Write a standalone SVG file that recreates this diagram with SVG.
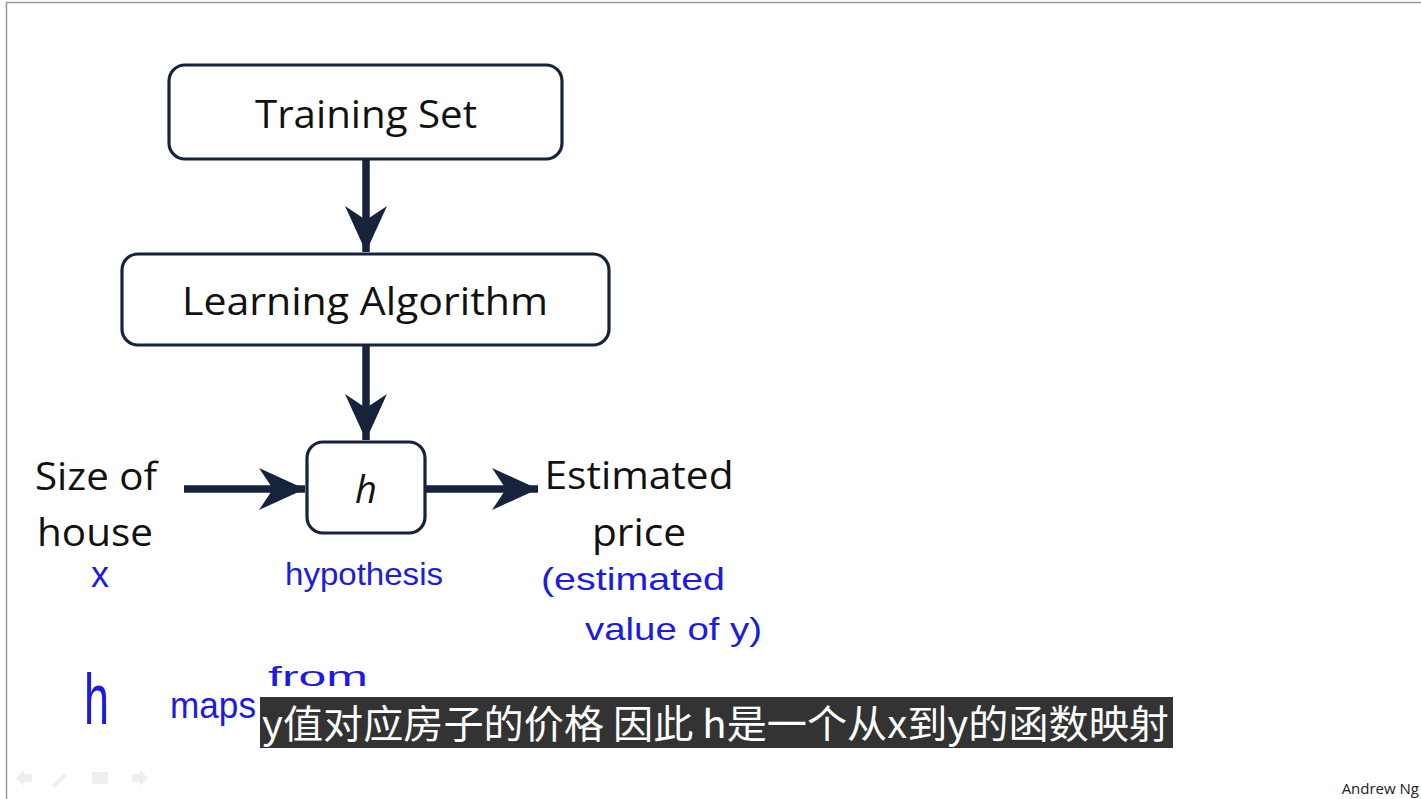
<svg xmlns="http://www.w3.org/2000/svg" width="1421" height="799" viewBox="0 0 1421 799">
<defs>
<style>
.box{fill:#ffffff;stroke:#16233b;stroke-width:3.2}
.lbl{font-family:"Open Sans","Liberation Sans",sans-serif;fill:#111111}
.hand{font-family:"Liberation Sans",sans-serif;fill:#1c1ce0;font-weight:normal}
.conn{stroke:#16233b;stroke-width:7.5;fill:none}
.sub{font-family:"Noto Sans CJK SC","Noto Sans",sans-serif;fill:#ffffff}
</style>
<marker id="ah" markerUnits="userSpaceOnUse" viewBox="-48 -24 50 48" markerWidth="50" markerHeight="48" refX="0" refY="0" orient="auto">
<path d="M0,0 L-46,-21 L-32,0 L-46,21 Z" fill="#16233b"/>
</marker>
</defs>
<rect x="0" y="0" width="1421" height="799" fill="#ffffff"/>
<g id="frame">
<line x1="6" y1="2.5" x2="1421" y2="2.5" stroke="#999999" stroke-width="1.5"/>
<line x1="6.5" y1="2" x2="6.5" y2="799" stroke="#999999" stroke-width="1.5"/>
</g>
<g id="connectors">
<line class="conn" x1="366" y1="160" x2="366" y2="252" marker-end="url(#ah)"/>
<line class="conn" x1="366" y1="346" x2="366" y2="440" marker-end="url(#ah)"/>
<line class="conn" x1="184" y1="489" x2="305" y2="489" marker-end="url(#ah)"/>
<line class="conn" x1="426" y1="489" x2="538" y2="489" marker-end="url(#ah)"/>
</g>
<g id="training-set">
<rect class="box" x="169" y="65" width="393" height="94" rx="16"/>
<text class="lbl" x="366" y="128" font-size="39" text-anchor="middle" textLength="222" lengthAdjust="spacingAndGlyphs">Training Set</text>
</g>
<g id="learning-algorithm">
<rect class="box" x="122" y="254" width="487" height="91" rx="16"/>
<text class="lbl" x="365" y="315" font-size="39" text-anchor="middle" textLength="366" lengthAdjust="spacingAndGlyphs">Learning Algorithm</text>
</g>
<g id="h-node">
<rect class="box" x="307" y="442" width="118" height="91" rx="16"/>
<text class="lbl" x="366" y="503" font-size="38" font-style="italic" text-anchor="middle">h</text>
</g>
<g id="input">
<text class="lbl" x="96" y="490" font-size="39" text-anchor="middle" textLength="122" lengthAdjust="spacingAndGlyphs">Size of</text>
<text class="lbl" x="95" y="546" font-size="39" text-anchor="middle" textLength="116" lengthAdjust="spacingAndGlyphs">house</text>
</g>
<g id="output">
<text class="lbl" x="639" y="489" font-size="39" text-anchor="middle" textLength="189" lengthAdjust="spacingAndGlyphs">Estimated</text>
<text class="lbl" x="639" y="546" font-size="39" text-anchor="middle" textLength="94" lengthAdjust="spacingAndGlyphs">price</text>
</g>
<g id="annotations">
<text class="hand" x="100" y="587" font-size="36" text-anchor="middle">x</text>
<text class="hand" x="285" y="585" font-size="32" textLength="158" lengthAdjust="spacingAndGlyphs">hypothesis</text>
<text class="hand" x="541" y="590" font-size="32" textLength="184" lengthAdjust="spacingAndGlyphs">(estimated</text>
<text class="hand" x="585" y="640" font-size="32" textLength="177" lengthAdjust="spacingAndGlyphs">value of y)</text>
<text class="hand" x="84" y="724" font-size="72" textLength="25" lengthAdjust="spacingAndGlyphs">h</text>
<text class="hand" x="170" y="718" font-size="36" textLength="86" lengthAdjust="spacingAndGlyphs">maps</text>
<text class="hand" x="268" y="686" font-size="28" textLength="100" lengthAdjust="spacingAndGlyphs">from</text>
</g>
<g id="nav-icons" fill="#eeeeee">
<path d="M16,778 l8,-8 v4 h8 v8 h-8 v4 z"/>
<path d="M52,785 l12,-12 l3,3 l-12,12 z"/>
<rect x="92" y="772" width="16" height="12"/>
<path d="M148,778 l-8,-8 v4 h-8 v8 h8 v4 z"/>
</g>
<g id="subtitle">
<rect x="260" y="697" width="913" height="51" fill="#333333"/>
<text class="sub" x="262" y="738" font-size="39" textLength="907" lengthAdjust="spacingAndGlyphs">y值对应房子的价格 因此 h是一个从x到y的函数映射</text>
</g>
<text id="author" x="1419" y="794" font-family="'Open Sans','Liberation Sans',sans-serif" font-size="15" fill="#222222" text-anchor="end">Andrew Ng</text>
</svg>
